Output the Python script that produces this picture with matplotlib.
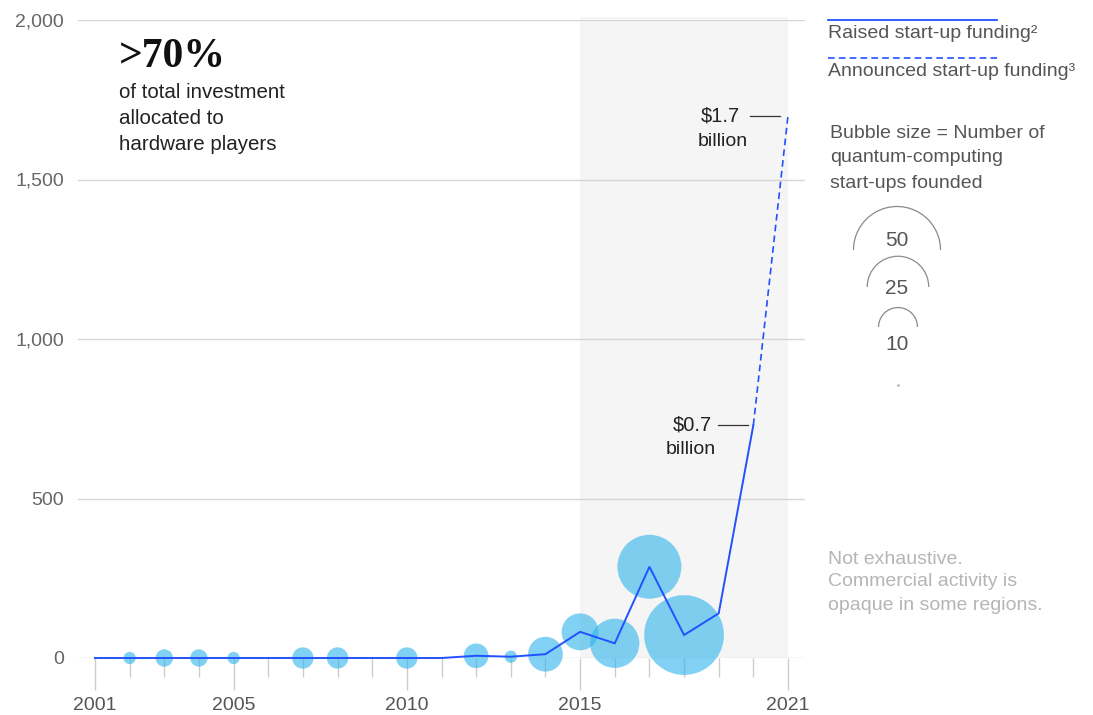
import matplotlib
matplotlib.use("Agg")
import matplotlib.pyplot as plt
from matplotlib.patches import Arc
import numpy as np

plt.rcParams['font.family'] = ['Liberation Sans', 'DejaVu Sans']

# ---- data ----
years = list(range(2001, 2021))
raised = [0, 0, 0, 0, 0, 0, 0, 0, 0, 0, 0, 7, 4, 12, 82, 46, 286, 72, 140, 730]
announced_years = [2020, 2021]
announced = [730, 1700]
startups = [0, 1, 2, 2, 1, 0, 3, 3, 0, 3, 0, 4, 1, 8, 9, 16, 27, 42, 0, 0]
legend_sizes = [50, 25, 10]
y_ticks = [0, 500, 1000, 1500, 2000]
y_tick_labels = ['0', '500', '1,000', '1,500', '2,000']
x_major = [2001, 2005, 2010, 2015, 2021]

W, H = 1093, 715
fig = plt.figure(figsize=(W / 100, H / 100), dpi=100)

# axes geometry in pixels
ax_l, ax_r, ax_t, ax_b = 78, 805, 20, 658
ax = fig.add_axes([ax_l / W, 1 - ax_b / H, (ax_r - ax_l) / W, (ax_b - ax_t) / H])
px_per_year = (788 - 95) / 20.0
ax.set_xlim(2001 - (95 - ax_l) / px_per_year, 2021 + (ax_r - 788) / px_per_year)
ax.set_ylim(0, 2000)
ax.patch.set_alpha(0)
for s in ax.spines.values():
    s.set_visible(False)

# shaded region
ax.fill_between([2015, 2021], 0, 2008, color='#f5f5f5', lw=0, zorder=0, clip_on=False)

# grid
ax.set_yticks(y_ticks)
ax.set_yticklabels(y_tick_labels)
ax.yaxis.grid(True, color='#d6d6d6', lw=1, zorder=1)
ax.tick_params(axis='y', length=0, pad=10, labelsize=14, labelcolor='#666666')

# x ticks
ax.set_xticks(x_major)
ax.set_xticks(range(2001, 2022), minor=True)
ax.tick_params(axis='x', which='major', length=23, width=1, color='#cccccc',
               pad=5, labelsize=14, labelcolor='#555555')
ax.tick_params(axis='x', which='minor', length=14, width=1, color='#cccccc')

# bubbles
r50 = 43.5  # px radius of a 50 bubble
sizes = [(2 * r50 * np.sqrt(n / 50.0) * 0.72) ** 2 for n in startups]
ax.scatter(years, raised, s=sizes, color='#33b5ec', alpha=0.62, lw=0,
           zorder=2, clip_on=False)

# lines
ax.plot(years, raised, color='#2251ff', lw=1.4, zorder=4, clip_on=False,
        solid_joinstyle='miter')
ax.plot(announced_years, announced, color='#2251ff', lw=1.2, zorder=4,
        linestyle=(0, (4, 2.5)), clip_on=False)

# overlay for annotations (pixel coordinates)
ov = fig.add_axes([0, 0, 1, 1], zorder=5)
ov.set_xlim(0, W)
ov.set_ylim(H, 0)
ov.axis('off')
ov.patch.set_alpha(0)

ov.text(119, 57, '>70%', family='Liberation Serif', fontsize=30, weight='bold',
        color='#111111', va='center', ha='left')
ov.text(119, 93, 'of total investment', fontsize=14.8, color='#222222', va='center')
ov.text(119, 119, 'allocated to', fontsize=14.8, color='#222222', va='center')
ov.text(119, 145, 'hardware players', fontsize=14.8, color='#222222', va='center')

# value annotations
ov.text(740, 116, '$1.7', fontsize=14.5, color='#222222', ha='right', va='center')
ov.text(723, 142, 'billion', fontsize=14, color='#222222', ha='center', va='center')
ov.plot([750, 780], [116, 116], color='#333333', lw=0.9)
ov.text(712, 425, '$0.7', fontsize=14.5, color='#222222', ha='right', va='center')
ov.text(691, 449, 'billion', fontsize=14, color='#222222', ha='center', va='center')
ov.plot([718, 748], [425, 425], color='#333333', lw=0.9)

# legend lines
ov.plot([828, 997], [20, 20], color='#2251ff', lw=1.3)
ov.text(828, 33, 'Raised start-up funding\u00b2', fontsize=14, color='#555555', va='center')
ov.plot([828, 997], [58, 58], color='#2251ff', lw=1.2, linestyle=(0, (4, 2.5)))
ov.text(828, 71, 'Announced start-up funding\u00b3', fontsize=14, color='#555555', va='center')

ov.text(830, 133, 'Bubble size = Number of', fontsize=14, color='#555555', va='center')
ov.text(830, 158, 'quantum-computing', fontsize=14, color='#555555', va='center')
ov.text(830, 184, 'start-ups founded', fontsize=14, color='#555555', va='center')

# bubble legend arcs
arc_centers = [(897, 250), (898, 287), (898, 327)]
label_pos = [(897, 241), (897, 289), (897, 344)]
for n, (cx, cy), (lx, ly) in zip(legend_sizes, arc_centers, label_pos):
    r = r50 * np.sqrt(n / 50.0)
    ov.add_patch(Arc((cx, cy), 2 * r, 2 * r, theta1=180, theta2=360,
                     color='#8a8a8a', lw=0.9))
    ov.text(lx, ly, str(n), fontsize=15, color='#555555', ha='center', va='center')
ov.plot([898], [385], marker='o', ms=0.8, color='#aaaaaa')

ov.text(828, 559, 'Not exhaustive.', fontsize=14, color='#b5b5b5', va='center')
ov.text(828, 582, 'Commercial activity is', fontsize=14, color='#b5b5b5', va='center')
ov.text(828, 606, 'opaque in some regions.', fontsize=14, color='#b5b5b5', va='center')

fig.savefig('out.png', dpi=100)
